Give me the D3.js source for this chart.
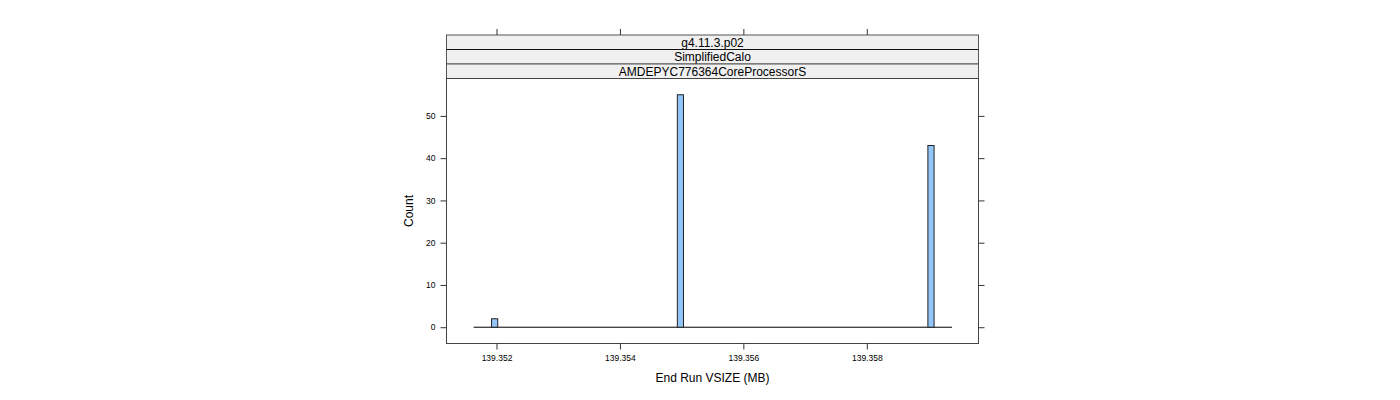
<!DOCTYPE html>
<html>
<head>
<meta charset="utf-8">
<script src="https://cdn.jsdelivr.net/npm/d3@7"></script>
<style>
  body { margin: 0; background: #fff; }
  svg text { font-family: "Liberation Sans", Arial, sans-serif; }
</style>
</head>
<body>
<div id="svg-container"></div>
<script>
let w = 1400;
let h = 400;

// strip labels, top to bottom
let stripLabels = ['g4.11.3.p02', 'SimplifiedCalo', 'AMDEPYC776364CoreProcessorS'];

// histogram: full break range and non-empty bins
let binRange = [139.35163, 139.35938];
let binWidth = 0.0001;
let binMids = [139.35197, 139.35498, 139.35904];
let binCounts = [2, 55, 43];

let xTicks = [139.352, 139.354, 139.356, 139.358];
let yTicks = [0, 10, 20, 30, 40, 50];

let xDomain = [139.35119, 139.35981];
let yDomain = [-3.85, 58.85];

// panel box
let pL = 446.5, pR = 978.5, pT = 78.5, pB = 343.5;
let stripH = 14.5;

let svg = d3.select('#svg-container').
append('svg').
attr('width', w).
attr('height', h);

let x = d3.scaleLinear().domain(xDomain).range([pL, pR]);
let y = d3.scaleLinear().domain(yDomain).range([pB, pT]);

// strips
let strips = svg.append('g');
stripLabels.forEach((s, i) => {
  let sTop = pT - stripH * (stripLabels.length - i);
  strips.append('rect').
  attr('x', pL).
  attr('y', sTop).
  attr('width', pR - pL).
  attr('height', stripH).
  attr('fill', '#f0f0f0').
  attr('stroke', '#555').
  attr('stroke-width', 1);
  strips.append('text').
  attr('x', (pL + pR) / 2).
  attr('y', sTop + stripH / 2 + 4.3).
  attr('text-anchor', 'middle').
  attr('font-size', 12).
  attr('fill', '#000').
  text(s);
});
// line between first and second strip is dark
strips.append('line').
attr('x1', pL).attr('x2', pR).
attr('y1', pT - stripH * 2).attr('y2', pT - stripH * 2).
attr('stroke', '#111');

// panel border
svg.append('rect').
attr('x', pL).
attr('y', pT).
attr('width', pR - pL).
attr('height', pB - pT).
attr('fill', 'none').
attr('stroke', '#444');

// axes
let fmt = d => d3.format('.3f')(d);
let axB = svg.append('g').
attr('transform', `translate(0,${pB})`).
call(d3.axisBottom(x).tickValues(xTicks).tickFormat(fmt).tickSize(6).tickPadding(5));
let axT = svg.append('g').
attr('transform', `translate(0,${pT - stripH * 3})`).
call(d3.axisTop(x).tickValues(xTicks).tickFormat('').tickSize(6));
let axL = svg.append('g').
attr('transform', `translate(${pL},0)`).
call(d3.axisLeft(y).tickValues(yTicks).tickSize(6).tickPadding(5));
let axR = svg.append('g').
attr('transform', `translate(${pR},0)`).
call(d3.axisRight(y).tickValues(yTicks).tickFormat('').tickSize(6));

[axB, axT, axL, axR].forEach(a => {
  a.select('.domain').remove();
  a.selectAll('.tick line').attr('stroke', '#333');
  a.selectAll('text').attr('font-size', 8.5).attr('fill', '#000').
  attr('font-family', '"Liberation Sans", Arial, sans-serif');
});

// baseline of empty bins
svg.append('line').
attr('x1', x(binRange[0])).
attr('x2', x(binRange[1])).
attr('y1', y(0)).
attr('y2', y(0)).
attr('stroke', '#000');

// bars
svg.append('g').selectAll('rect').
data(binMids).
enter().
append('rect').
attr('x', d => x(d - binWidth / 2)).
attr('width', d => x(d + binWidth / 2) - x(d - binWidth / 2)).
attr('y', (d, i) => y(binCounts[i])).
attr('height', (d, i) => y(0) - y(binCounts[i])).
attr('fill', '#92c5f8').
attr('stroke', '#222').
attr('stroke-width', 1);

// axis titles
svg.append('text').
attr('x', (pL + pR) / 2).
attr('y', 382).
attr('text-anchor', 'middle').
attr('font-size', 12).
text('End Run VSIZE (MB)');

svg.append('text').
attr('transform', `translate(413,${(pT + pB) / 2}) rotate(-90)`).
attr('text-anchor', 'middle').
attr('font-size', 12).
text('Count');
</script>
</body>
</html>
